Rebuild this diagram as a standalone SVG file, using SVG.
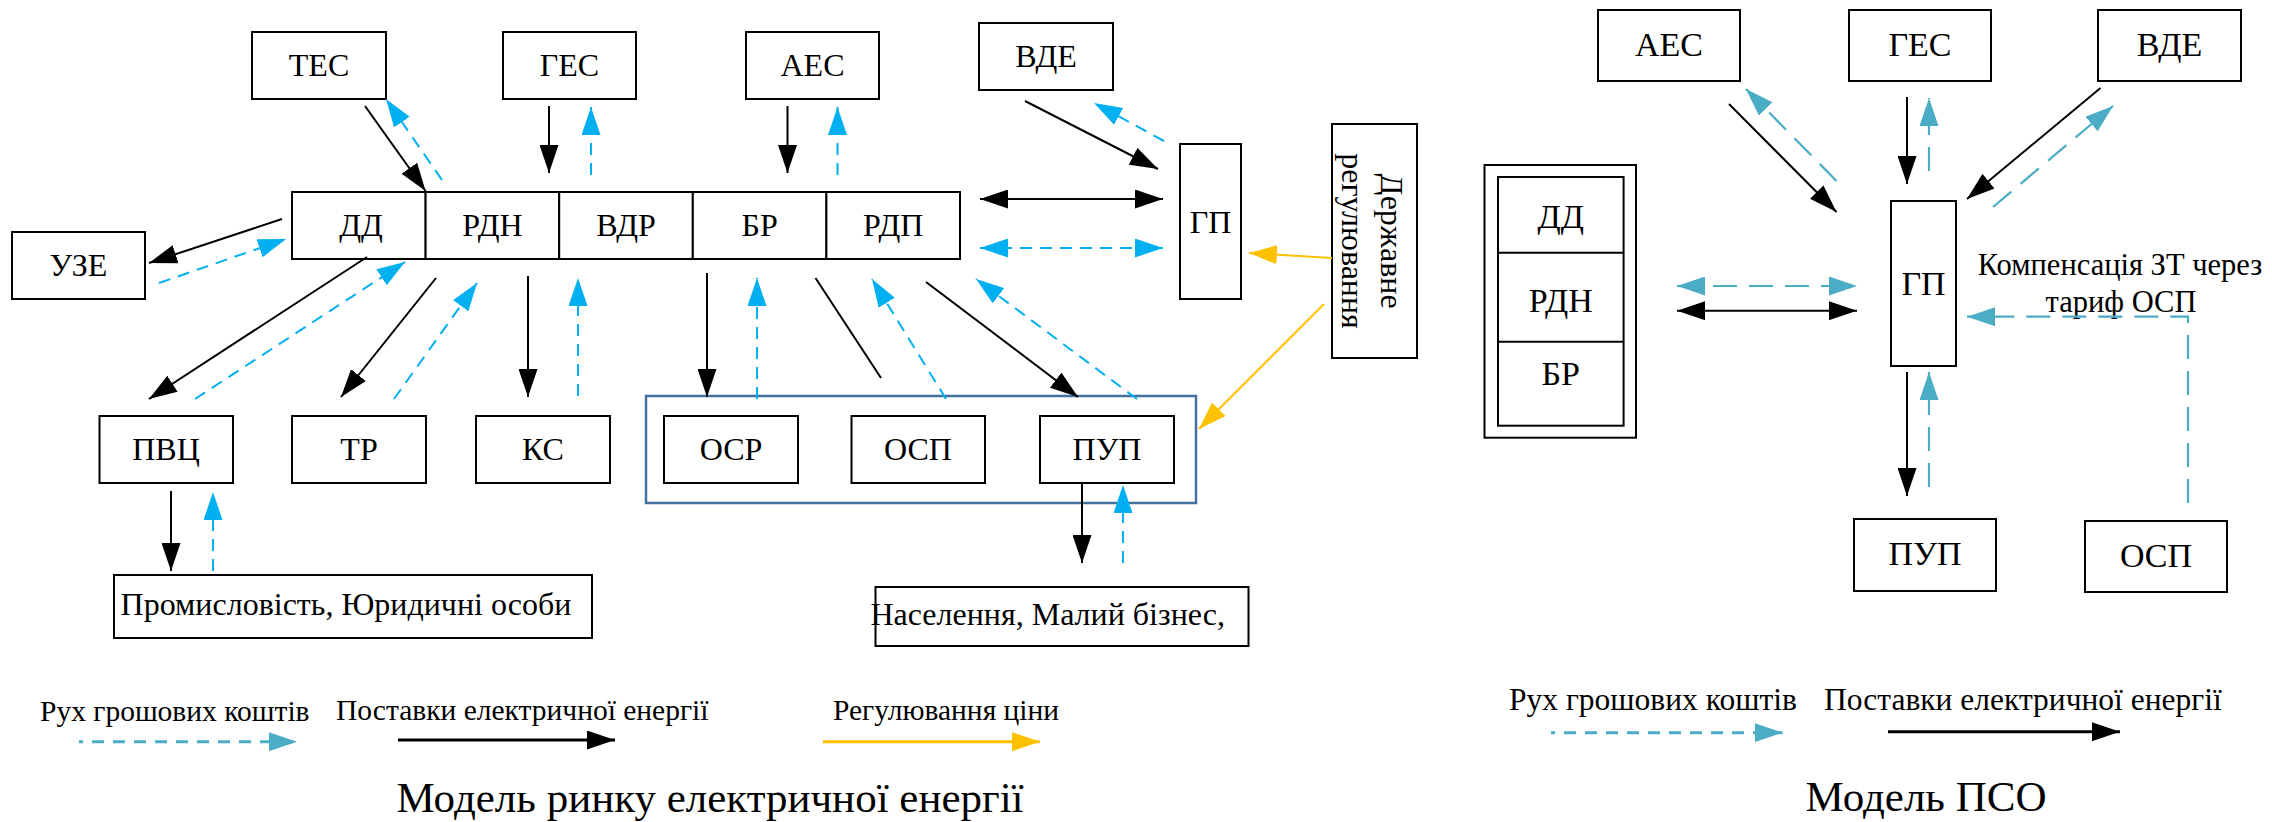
<svg xmlns="http://www.w3.org/2000/svg" width="2272" height="822" viewBox="0 0 2272 822">
<style>
.box{fill:#fff;stroke:#000;stroke-width:2}
.t{font-family:"Liberation Serif","Times New Roman",serif;font-size:32px;text-anchor:middle;fill:#000}
.t2{font-family:"Liberation Serif","Times New Roman",serif;font-size:34px;text-anchor:middle;fill:#000}
.lg{font-family:"Liberation Serif","Times New Roman",serif;font-size:29.5px;fill:#000}
.lg2{font-family:"Liberation Serif","Times New Roman",serif;font-size:31.5px;fill:#000}
.cm{font-family:"Liberation Serif","Times New Roman",serif;font-size:30.5px;text-anchor:middle;fill:#000}
.ttl{font-family:"Liberation Serif","Times New Roman",serif;font-size:43px;text-anchor:middle;fill:#000}
.k{stroke:#000;stroke-width:2;fill:none}
.b{stroke:#00B0F0;stroke-width:2;stroke-dasharray:12 8;fill:none}
.c{stroke:#4BACC6;stroke-width:2.2;stroke-dasharray:24 12;fill:none}
.y{stroke:#FFC000;stroke-width:2;fill:none}
</style>
<defs>
<marker id="ak" markerWidth="28" markerHeight="19" refX="28" refY="9.5" orient="auto-start-reverse" markerUnits="userSpaceOnUse"><path d="M0,0 L28,9.5 L0,19 z" fill="#000"/></marker>
<marker id="ab" markerWidth="28" markerHeight="19" refX="28" refY="9.5" orient="auto-start-reverse" markerUnits="userSpaceOnUse"><path d="M0,0 L28,9.5 L0,19 z" fill="#00B0F0"/></marker>
<marker id="at" markerWidth="28" markerHeight="19" refX="28" refY="9.5" orient="auto-start-reverse" markerUnits="userSpaceOnUse"><path d="M0,0 L28,9.5 L0,19 z" fill="#4BACC6"/></marker>
<marker id="ay" markerWidth="28" markerHeight="19" refX="28" refY="9.5" orient="auto-start-reverse" markerUnits="userSpaceOnUse"><path d="M0,0 L28,9.5 L0,19 z" fill="#FFC000"/></marker>
</defs>
<rect width="2272" height="822" fill="#fff"/>

<!-- Left model nodes -->
<g id="n-tes"><rect class="box" x="252" y="32" width="134" height="67"/><text class="t" x="319" y="76">ТЕС</text></g>
<g id="n-ges"><rect class="box" x="503" y="32" width="133" height="67"/><text class="t" x="569.5" y="76">ГЕС</text></g>
<g id="n-aes"><rect class="box" x="746" y="32" width="133" height="67"/><text class="t" x="812.5" y="76">АЕС</text></g>
<g id="n-vde"><rect class="box" x="979" y="23" width="134" height="67"/><text class="t" x="1046" y="67">ВДЕ</text></g>
<g id="n-uze"><rect class="box" x="12" y="232" width="133" height="67"/><text class="t" x="78.5" y="276">УЗЕ</text></g>
<g id="n-dd"><rect class="box" x="292" y="192" width="133.6" height="67"/><text class="t" x="361" y="236">ДД</text></g>
<g id="n-rdn"><rect class="box" x="425.6" y="192" width="133.6" height="67"/><text class="t" x="492.4" y="236">РДН</text></g>
<g id="n-vdr"><rect class="box" x="559.2" y="192" width="133.6" height="67"/><text class="t" x="626" y="236">ВДР</text></g>
<g id="n-br"><rect class="box" x="692.8" y="192" width="133.6" height="67"/><text class="t" x="759.6" y="236">БР</text></g>
<g id="n-rdp"><rect class="box" x="826.4" y="192" width="133.6" height="67"/><text class="t" x="893.2" y="236">РДП</text></g>
<g id="n-gp"><rect class="box" x="1180" y="144" width="61" height="155"/><text class="t" x="1210.5" y="233">ГП</text></g>
<g id="n-reg"><rect class="box" x="1332" y="124" width="85" height="234"/>
<text class="t" transform="translate(1381,241) rotate(90)">Державне</text>
<text class="t" transform="translate(1342,241) rotate(90)">регулювання</text></g>
<g id="n-grp"><rect x="646" y="396" width="550" height="107" fill="none" stroke="#41719C" stroke-width="2.5"/></g>
<g id="n-pvc"><rect class="box" x="99.5" y="416" width="133.5" height="67"/><text class="t" x="166" y="460">ПВЦ</text></g>
<g id="n-tr"><rect class="box" x="292" y="416" width="134" height="67"/><text class="t" x="359" y="460">ТР</text></g>
<g id="n-ks"><rect class="box" x="476" y="416" width="134" height="67"/><text class="t" x="543" y="460">КС</text></g>
<g id="n-osr"><rect class="box" x="664" y="416" width="134" height="67"/><text class="t" x="731" y="460">ОСР</text></g>
<g id="n-osp"><rect class="box" x="851.5" y="416" width="133.5" height="67"/><text class="t" x="918" y="460">ОСП</text></g>
<g id="n-pup"><rect class="box" x="1040" y="416" width="134" height="67"/><text class="t" x="1107" y="460">ПУП</text></g>
<g id="n-prom"><rect class="box" x="114" y="575" width="478" height="63"/><text class="t" x="346" y="615">Промисловість, Юридичні особи</text></g>
<g id="n-nas"><rect class="box" x="875.5" y="587" width="373" height="59"/><text class="t" x="1047.7" y="625">Населення, Малий бізнес,</text></g>

<!-- PSO model nodes -->
<g id="p-aes"><rect class="box" x="1598" y="10" width="142" height="71"/><text class="t2" x="1669" y="56">АЕС</text></g>
<g id="p-ges"><rect class="box" x="1849" y="10" width="142" height="71"/><text class="t2" x="1920" y="56">ГЕС</text></g>
<g id="p-vde"><rect class="box" x="2098" y="10" width="143" height="71"/><text class="t2" x="2169.5" y="56">ВДЕ</text></g>
<g id="p-gp"><rect class="box" x="1891" y="201" width="65" height="165"/><text class="t2" x="1923.5" y="295">ГП</text></g>
<g id="p-pup"><rect class="box" x="1854" y="519" width="142" height="72"/><text class="t2" x="1925" y="565">ПУП</text></g>
<g id="p-osp"><rect class="box" x="2085" y="521" width="142" height="71"/><text class="t2" x="2156" y="567">ОСП</text></g>
<g id="p-mkt"><rect class="box" x="1484.5" y="165" width="151.5" height="272.7"/>
<rect class="box" x="1498" y="177" width="125.6" height="248.7"/>
<line class="k" x1="1498" y1="252.7" x2="1623.6" y2="252.7"/>
<line class="k" x1="1498" y1="341.7" x2="1623.6" y2="341.7"/>
<text class="t2" x="1560.8" y="228">ДД</text>
<text class="t2" x="1560.8" y="312">РДН</text>
<text class="t2" x="1560.8" y="385">БР</text></g>
<text class="cm" x="2120" y="275">Компенсація ЗТ через</text>
<text class="cm" x="2121" y="312">тариф ОСП</text>

<!-- Connectors -->
<g id="connectors">
<line class="k" x1="365" y1="106" x2="425.6" y2="191" marker-end="url(#ak)"/>
<line class="b" x1="442" y1="180" x2="386" y2="99" marker-end="url(#ab)"/>
<line class="k" x1="549" y1="106" x2="549" y2="173" marker-end="url(#ak)"/>
<line class="b" x1="591" y1="175" x2="591" y2="107" marker-end="url(#ab)"/>
<line class="k" x1="787.5" y1="106" x2="787.5" y2="173" marker-end="url(#ak)"/>
<line class="b" x1="837.5" y1="175" x2="837.5" y2="107" marker-end="url(#ab)"/>
<line class="k" x1="1025" y1="101" x2="1158" y2="169" marker-end="url(#ak)"/>
<line class="b" x1="1164" y1="141" x2="1094" y2="103" marker-end="url(#ab)"/>
<line class="k" x1="980" y1="199" x2="1163" y2="199" stroke-width="3" marker-start="url(#ak)" marker-end="url(#ak)"/>
<line class="b" x1="980" y1="248" x2="1163" y2="248" stroke-width="3" marker-start="url(#ab)" marker-end="url(#ab)"/>
<line class="k" x1="282" y1="219" x2="149" y2="263" marker-end="url(#ak)"/>
<line class="b" x1="159" y1="283" x2="286" y2="239" marker-end="url(#ab)"/>
<line class="k" x1="367" y1="257" x2="149" y2="399" marker-end="url(#ak)"/>
<line class="b" x1="195" y1="399" x2="405" y2="262" marker-end="url(#ab)"/>
<line class="k" x1="436" y1="278" x2="341" y2="397" marker-end="url(#ak)"/>
<line class="b" x1="394" y1="399" x2="477" y2="283" marker-end="url(#ab)"/>
<line class="k" x1="528" y1="276" x2="528" y2="397" marker-end="url(#ak)"/>
<line class="b" x1="578" y1="396" x2="578" y2="278" marker-end="url(#ab)"/>
<line class="k" x1="707" y1="273" x2="707" y2="397" marker-end="url(#ak)"/>
<line class="b" x1="757" y1="399" x2="757" y2="278" marker-end="url(#ab)"/>
<line class="k" x1="815.5" y1="278" x2="881" y2="378"/>
<line class="b" x1="946" y1="399" x2="872" y2="279" marker-end="url(#ab)"/>
<line class="k" x1="926" y1="282" x2="1078" y2="397" marker-end="url(#ak)"/>
<line class="b" x1="1137" y1="399" x2="976" y2="279" marker-end="url(#ab)"/>
<line class="k" x1="171" y1="491" x2="171" y2="571" marker-end="url(#ak)"/>
<line class="b" x1="213" y1="571" x2="213" y2="492" marker-end="url(#ab)"/>
<line class="k" x1="1082" y1="484" x2="1082" y2="563" marker-end="url(#ak)"/>
<line class="b" x1="1123" y1="563" x2="1123" y2="485" marker-end="url(#ab)"/>
<line class="y" x1="1332" y1="258" x2="1249" y2="253" marker-end="url(#ay)"/>
<line class="y" x1="1324" y1="304" x2="1199" y2="429" marker-end="url(#ay)"/>

<line class="k" x1="1729" y1="104" x2="1836.5" y2="212" marker-end="url(#ak)"/>
<line class="c" x1="1836.5" y1="181" x2="1746" y2="89" marker-end="url(#at)"/>
<line class="k" x1="1907" y1="97" x2="1907" y2="184" marker-end="url(#ak)"/>
<line class="c" x1="1929" y1="171" x2="1929" y2="98" marker-end="url(#at)"/>
<line class="k" x1="2100.5" y1="88" x2="1967" y2="199" marker-end="url(#ak)"/>
<line class="c" x1="1993" y1="207" x2="2113" y2="106" marker-end="url(#at)"/>
<line class="c" x1="1677" y1="286" x2="1857" y2="286" stroke-width="3" marker-start="url(#at)" marker-end="url(#at)"/>
<line class="k" x1="1677" y1="310.7" x2="1857" y2="310.7" stroke-width="3" marker-start="url(#ak)" marker-end="url(#ak)"/>
<path class="c" d="M2188,503 V316.7 H1967" marker-end="url(#at)"/>
<line class="k" x1="1907" y1="372" x2="1907" y2="496" marker-end="url(#ak)"/>
<line class="c" x1="1929" y1="487" x2="1929" y2="372" marker-end="url(#at)"/>
</g>

<!-- Legends -->
<g id="legend-left">
<text class="lg" x="40" y="721">Рух грошових коштів</text>
<line x1="79" y1="741.7" x2="297" y2="741.7" stroke="#4BACC6" stroke-width="3" stroke-dasharray="12 9" stroke-dashoffset="8" marker-end="url(#at)"/>
<text class="lg" x="336" y="720">Поставки електричної енергії</text>
<line x1="398" y1="740" x2="615" y2="740" stroke="#000" stroke-width="3" marker-end="url(#ak)"/>
<text class="lg" x="833" y="720">Регулювання ціни</text>
<line x1="823" y1="741.7" x2="1040" y2="741.7" stroke="#FFC000" stroke-width="3" marker-end="url(#ay)"/>
</g>
<g id="legend-right">
<text class="lg2" x="1509" y="710">Рух грошових коштів</text>
<line x1="1551" y1="732.7" x2="1782.5" y2="732.7" stroke="#4BACC6" stroke-width="3" stroke-dasharray="12 9" stroke-dashoffset="8" marker-end="url(#at)"/>
<text class="lg2" x="1824" y="710">Поставки електричної енергії</text>
<line x1="1888" y1="731.7" x2="2120" y2="731.7" stroke="#000" stroke-width="3" marker-end="url(#ak)"/>
</g>
<text class="ttl" x="710" y="812">Модель ринку електричної енергії</text>
<text class="ttl" x="1926" y="811">Модель ПСО</text>
</svg>
